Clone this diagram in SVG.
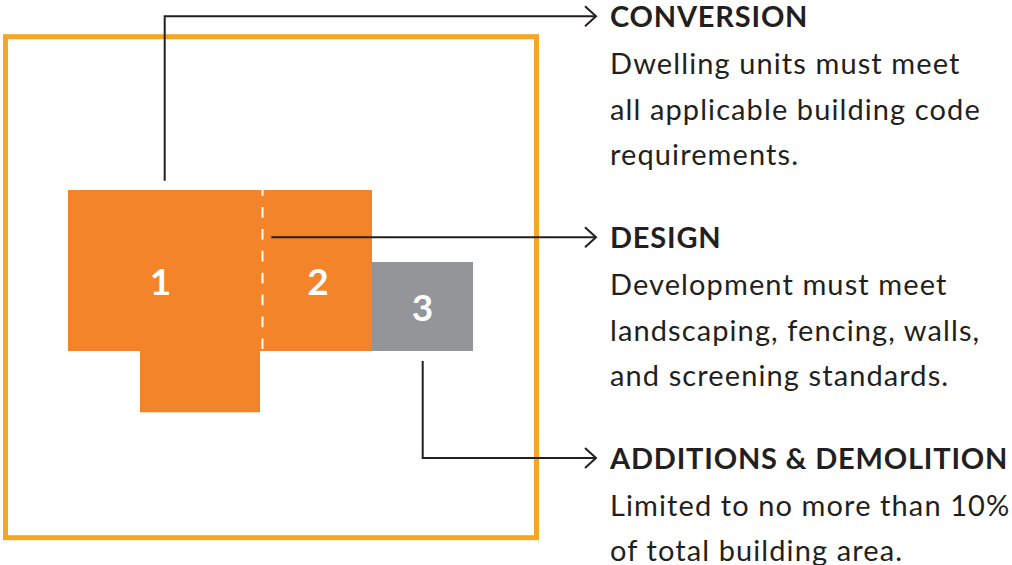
<svg xmlns="http://www.w3.org/2000/svg" width="1012" height="565" viewBox="0 0 1012 565">
  <defs>
    <style>
      .frame { fill: none; stroke: #F6A623; stroke-width: 5; }
      .bldg { fill: #F4842A; }
      .add { fill: #939598; }
      .num { font-family: Lato, "Liberation Sans", sans-serif; font-weight: 700; font-size: 37px; fill: #ffffff; text-anchor: middle; }
      .seam { stroke: #ffffff; stroke-width: 2; stroke-dasharray: 10.7 11.2; stroke-dashoffset: 4.9; }
      .wire { fill: none; stroke: #231F20; stroke-width: 2; marker-end: url(#chev); }
      .head { font-family: Lato, "Liberation Sans", sans-serif; font-weight: 700; font-size: 29px; letter-spacing: 0.8px; fill: #231F20; }
      .body { font-family: Lato, "Liberation Sans", sans-serif; font-weight: 400; font-size: 29px; letter-spacing: 1.1px; fill: #231F20; }
    </style>
    <marker id="chev" markerUnits="userSpaceOnUse" viewBox="-13 -12 15 24" markerWidth="15" markerHeight="24" refX="0" refY="0" orient="auto">
      <path d="M-11,-10 L0,0 L-11,10" fill="none" stroke="#231F20" stroke-width="2"/>
    </marker>
  </defs>

  <!-- lot boundary -->
  <g id="lot">
    <rect class="frame" x="5.5" y="36.7" width="531" height="501"/>
  </g>

  <!-- existing building (1) with converted portion (2) -->
  <g id="building-1">
    <rect class="bldg" x="68" y="190" width="304" height="161"/>
    <rect class="bldg" x="140" y="350" width="120" height="62.3"/>
    <text class="num" x="160.5" y="295">1</text>
  </g>
  <g id="building-2">
    <line class="seam" x1="262.5" y1="190" x2="262.5" y2="351"/>
    <text class="num" x="318" y="295">2</text>
  </g>
  <g id="addition-3">
    <rect class="add" x="372" y="262" width="101" height="89"/>
    <text class="num" x="422.5" y="321">3</text>
  </g>

  <!-- leader lines -->
  <g id="connectors">
    <path class="wire" d="M164.7,180.7 V16.3 H596"/>
    <path class="wire" d="M271.3,237.3 H596"/>
    <path class="wire" d="M422.7,361 V458 H596"/>
  </g>

  <!-- notes -->
  <g id="note-conversion">
    <text class="head" x="610" y="27.3">CONVERSION</text>
    <text class="body" x="610" y="74">Dwelling units must meet</text>
    <text class="body" x="610" y="119.5">all applicable building code</text>
    <text class="body" x="610" y="165">requirements.</text>
  </g>
  <g id="note-design">
    <text class="head" x="610" y="248.3">DESIGN</text>
    <text class="body" x="610" y="295">Development must meet</text>
    <text class="body" x="610" y="340.5">landscaping, fencing, walls,</text>
    <text class="body" x="610" y="386">and screening standards.</text>
  </g>
  <g id="note-additions">
    <text class="head" x="610" y="469">ADDITIONS &amp; DEMOLITION</text>
    <text class="body" x="610" y="515.5">Limited to no more than 10%</text>
    <text class="body" x="610" y="561">of total building area.</text>
  </g>
</svg>
